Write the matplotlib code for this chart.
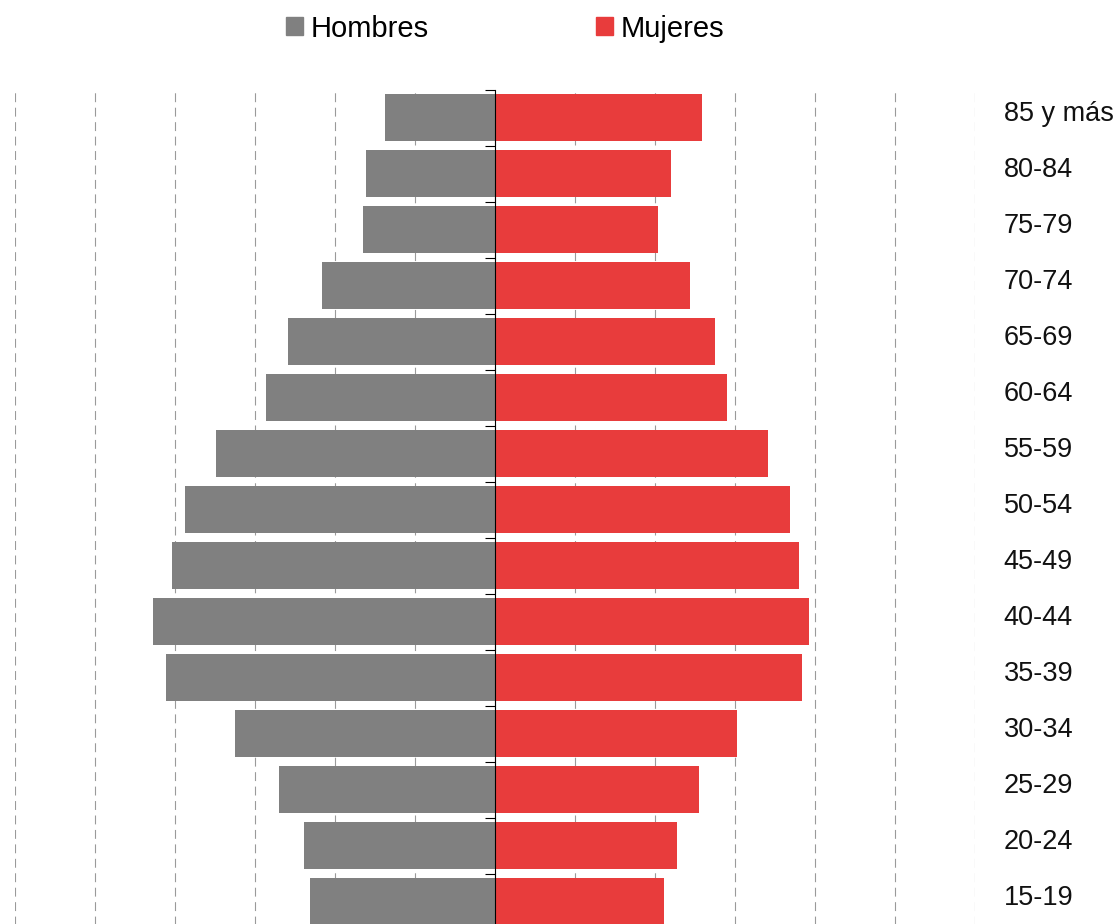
import matplotlib.pyplot as plt
import numpy as np
from matplotlib.patches import Patch

# grupos de edad, de abajo hacia arriba
grupos = ["15-19", "20-24", "25-29", "30-34", "35-39", "40-44", "45-49",
          "50-54", "55-59", "60-64", "65-69", "70-74", "75-79", "80-84", "85 y más"]
hombres = [2.31, 2.39, 2.70, 3.25, 4.11, 4.28, 4.04, 3.88, 3.49, 2.86,
           2.59, 2.16, 1.65, 1.61, 1.38]
mujeres = [2.11, 2.28, 2.55, 3.03, 3.84, 3.93, 3.80, 3.69, 3.41, 2.90,
           2.75, 2.44, 2.04, 2.20, 2.59]

gris = "#808080"
rojo = "#E83C3C"

plt.rcParams["font.family"] = ["Liberation Sans", "DejaVu Sans"]

fig = plt.figure(figsize=(11.2, 9.24), dpi=100)
ax = fig.add_axes([0.0134, -0.006, 0.8572, 0.9091])

y = np.arange(len(grupos))
ax.barh(y, -np.array(hombres), height=0.84, color=gris, zorder=2)
ax.barh(y, mujeres, height=0.84, color=rojo, zorder=2)

ax.set_xlim(-6, 6)
ax.set_ylim(-0.5, len(grupos) - 0.5)

# cuadricula vertical discontinua
ax.set_xticks(np.arange(-6, 7, 1))
ax.tick_params(axis="x", length=0, labelbottom=False)
ax.grid(axis="x", color="#9a9a9a", linestyle=(0, (8, 5)), linewidth=0.8, zorder=0)

# eje central con marcas
for s in ["top", "right", "bottom"]:
    ax.spines[s].set_visible(False)
ax.spines["left"].set_position(("data", 0))
ax.spines["left"].set_linewidth(0.8)
ax.spines["left"].set_zorder(3)
ax.set_yticks(y)
ax.set_yticks(np.arange(-0.5, len(grupos), 1), minor=True)
ax.tick_params(axis="y", which="both", direction="out", labelleft=False, width=0.8)
ax.tick_params(axis="y", which="major", length=5)
ax.tick_params(axis="y", which="minor", length=7)

# etiquetas de edad a la derecha (un poco por encima del centro de la barra)
for yi, g in zip(y, grupos):
    ax.text(6.36, yi + 0.07, g, fontsize=19.5, va="center", ha="left", color="#111111")

handles = [Patch(color=gris, label="Hombres"), Patch(color=rojo, label="Mujeres")]
fig.legend(handles=handles, loc="center", bbox_to_anchor=(0.451, 0.969), ncol=2,
           frameon=False, fontsize=21, handlelength=0.58, handleheight=0.58,
           handletextpad=0.24, columnspacing=5.75)

fig.savefig("out.png", dpi=100)
